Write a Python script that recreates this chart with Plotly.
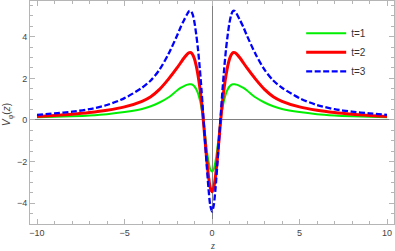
import plotly.graph_objects as go

# positive half of z (curves are symmetric in z)
z_half = [0, 0.1, 0.2, 0.3, 0.4, 0.5, 0.6, 0.7, 0.8, 0.9, 1.0, 1.1, 1.2, 1.3, 1.4,
          1.6, 1.8, 2.0, 2.5, 3.0, 3.5, 4.0, 5.0, 6.0, 7.0, 8.0, 9.0, 10.0]
v_t1 = [-2.48, -2.36, -1.98, -1.42, -0.68, 0.05, 0.58, 0.98, 1.28, 1.48, 1.61, 1.69, 1.72, 1.72, 1.70,
        1.63, 1.54, 1.42, 1.08, 0.84, 0.66, 0.53, 0.38, 0.28, 0.22, 0.18, 0.15, 0.13]
v_t2 = [-3.45, -3.25, -2.70, -1.90, -0.95, 0.02, 0.88, 1.58, 2.15, 2.60, 2.93, 3.14, 3.24, 3.24, 3.18,
        2.98, 2.74, 2.50, 1.95, 1.47, 1.12, 0.90, 0.63, 0.47, 0.36, 0.28, 0.22, 0.17]
v_t3 = [-4.40, -4.10, -3.30, -2.20, -1.00, 0.25, 1.45, 2.50, 3.40, 4.10, 4.68, 5.06, 5.24, 5.24, 5.12,
        4.80, 4.45, 4.05, 3.15, 2.42, 1.90, 1.55, 1.05, 0.72, 0.52, 0.40, 0.32, 0.25]

labels = ["t=1", "t=2", "t=3"]
colors = ["#00ee00", "#ff0000", "#0000ff"]
widths = [2, 3, 2.3]
dashes = ["solid", "solid", "6px,2.5px"]

x_ticks = [-10, -5, 0, 5, 10]
x_ticklabels = ["\u221210", "\u22125", "0", "5", "10"]
y_ticks = [-4, -2, 0, 2, 4]
y_ticklabels = ["\u22124", "\u22122", "0", "2", "4"]


def full(zh, vh):
    z = [-v for v in reversed(zh[1:])] + list(zh)
    v = list(reversed(vh[1:])) + list(vh)
    return z, v


fig = go.Figure()
for vals, lab, col, w, d in zip([v_t1, v_t2, v_t3], labels, colors, widths, dashes):
    z, v = full(z_half, vals)
    fig.add_trace(go.Scatter(x=z, y=v, mode="lines", name=lab,
                             line=dict(color=col, width=w, dash=d, shape="spline", smoothing=0.8)))

frame = "#b5b5b5"
tickfont = dict(family="Liberation Sans, Arial, sans-serif", size=9, color="#444444")
fig.update_layout(
    width=395, height=251,
    margin=dict(l=30, r=1, t=1, b=27, autoexpand=False),
    paper_bgcolor="white", plot_bgcolor="white",
    showlegend=True,
    legend=dict(x=0.745, y=0.92, xanchor="left", yanchor="top", bgcolor="rgba(0,0,0,0)",
                font=dict(family="Liberation Sans, Arial, sans-serif", size=10, color="#333333"),
                itemwidth=40, tracegroupgap=0),
    xaxis=dict(range=[-10.4, 10.4], tickvals=x_ticks, ticktext=x_ticklabels, ticks="inside",
               ticklen=5, tickcolor=frame, showgrid=False, showline=True, linecolor=frame,
               mirror="ticks", zeroline=True, zerolinecolor="#808080", zerolinewidth=1,
               tickfont=tickfont, automargin=False,
               minor=dict(dtick=1, tick0=0, ticks="inside", ticklen=3, tickcolor=frame, showgrid=False)),
    yaxis=dict(range=[-5.0, 5.72], tickvals=y_ticks, ticktext=y_ticklabels, ticks="inside",
               ticklen=5, tickcolor=frame, showgrid=False, showline=True, linecolor=frame,
               mirror="ticks", zeroline=True, zerolinecolor="#808080", zerolinewidth=1,
               tickfont=tickfont, automargin=False,
               minor=dict(dtick=0.5, tick0=0, ticks="inside", ticklen=3, tickcolor=frame, showgrid=False)),
    annotations=[
        dict(text="<i>z</i>", x=0, xref="x", y=-0.098, yref="paper", yanchor="middle",
             showarrow=False, font=dict(family="Liberation Serif, serif", size=10, color="#444444")),
        dict(text="<i>V</i><sub>\u03c6</sub>(<i>z</i>)", x=-0.06, xref="paper", xanchor="center",
             y=0.49, yref="paper", yanchor="middle", textangle=-90, showarrow=False,
             font=dict(family="Liberation Sans, Arial, sans-serif", size=10, color="#444444")),
    ],
)

fig.write_html("out.html", config={"displayModeBar": False},
               post_script="document.body.style.margin='0';document.body.style.padding='0';")
